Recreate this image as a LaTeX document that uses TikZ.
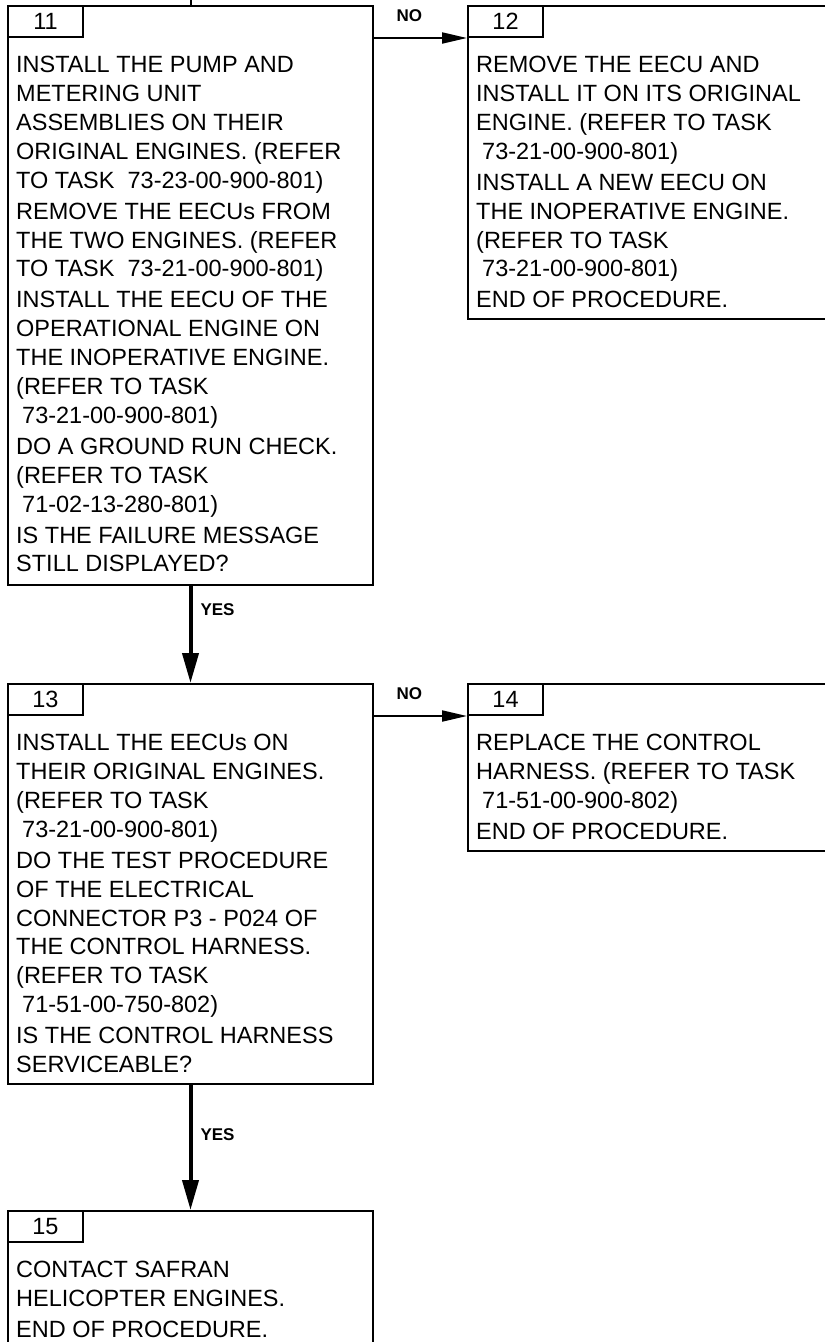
\documentclass[tikz,border=0pt]{standalone}
\usepackage{fontspec}
\setmainfont{Liberation Sans}
\usetikzlibrary{arrows.meta,positioning}

\begin{document}
\begin{tikzpicture}[x=1pt,y=-1pt,
  box/.style={draw,line width=2pt,anchor=north west,minimum width=365pt,inner sep=0pt},
  tab/.style={draw,line width=2pt,anchor=north west,minimum width=75pt,minimum height=31pt,inner sep=0pt,font=\fontsize{23.5pt}{28pt}\selectfont},
  txt/.style={align=left,inner sep=0pt,font=\fontsize{23.5pt}{28.9pt}\selectfont},
  yes/.style={line width=4pt,-{Triangle[length=30pt,width=16pt]}},
  no/.style={line width=2pt,-{Triangle[length=25pt,width=11pt]}},
  lbl/.style={inner sep=0pt,font=\fontsize{17pt}{20pt}\selectfont\bfseries}]
  \useasboundingbox (0,0) rectangle (825,1342);
  \clip (0,0) rectangle (825,1342);

  \node[box,minimum height=579pt] (b11) at (7,5) {};
  \node[tab] (t11) at (b11.north west) {11};
  \node[txt,below right=18pt and 9pt of t11.south west] (x11) {INSTALL THE PUMP AND\\
    METERING UNIT\\
    ASSEMBLIES ON THEIR\\
    ORIGINAL ENGINES. (REFER\\
    TO TASK\ \ 73-23-00-900-801)\\[2pt]
    REMOVE THE EECUs FROM\\
    THE TWO ENGINES. (REFER\\
    TO TASK\ \ 73-21-00-900-801)\\[2pt]
    INSTALL THE EECU OF THE\\
    OPERATIONAL ENGINE ON\\
    THE INOPERATIVE ENGINE.\\
    (REFER TO TASK\\
    \hspace*{6pt}73-21-00-900-801)\\[2pt]
    DO A GROUND RUN CHECK.\\
    (REFER TO TASK\\
    \hspace*{6pt}71-02-13-280-801)\\[2pt]
    IS THE FAILURE MESSAGE\\
    STILL DISPLAYED?};

  \node[box,minimum width=420pt,minimum height=313pt] (b12) at (467,5) {};
  \node[tab] (t12) at (b12.north west) {12};
  \node[txt,below right=18pt and 9pt of t12.south west] (x12) {REMOVE THE EECU AND\\
    INSTALL IT ON ITS ORIGINAL\\
    ENGINE. (REFER TO TASK\\
    \hspace*{6pt}73-21-00-900-801)\\[2pt]
    INSTALL A NEW EECU ON\\
    THE INOPERATIVE ENGINE.\\
    (REFER TO TASK\\
    \hspace*{6pt}73-21-00-900-801)\\[2pt]
    END OF PROCEDURE.};

  \node[box,minimum height=400pt] (b13) at (7,683) {};
  \node[tab] (t13) at (b13.north west) {13};
  \node[txt,below right=18pt and 9pt of t13.south west] (x13) {INSTALL THE EECUs ON\\
    THEIR ORIGINAL ENGINES.\\
    (REFER TO TASK\\
    \hspace*{6pt}73-21-00-900-801)\\[2pt]
    DO THE TEST PROCEDURE\\
    OF THE ELECTRICAL\\
    CONNECTOR P3 - P024 OF\\
    THE CONTROL HARNESS.\\
    (REFER TO TASK\\
    \hspace*{6pt}71-51-00-750-802)\\[2pt]
    IS THE CONTROL HARNESS\\
    SERVICEABLE?};

  \node[box,minimum width=420pt,minimum height=167pt] (b14) at (467,683) {};
  \node[tab] (t14) at (b14.north west) {14};
  \node[txt,below right=18pt and 9pt of t14.south west] (x14) {REPLACE THE CONTROL\\
    HARNESS. (REFER TO TASK\\
    \hspace*{6pt}71-51-00-900-802)\\[2pt]
    END OF PROCEDURE.};

  \node[box,minimum height=190pt] (b15) at (7,1210) {};
  \node[tab] (t15) at (b15.north west) {15};
  \node[txt,below right=18pt and 9pt of t15.south west] (x15) {CONTACT SAFRAN\\
    HELICOPTER ENGINES.\\[2pt]
    END OF PROCEDURE.};

  \coordinate (in11) at (b11.north |- 0,0);
  \draw[line width=2pt] (in11) -- (b11.north);
  \draw[no] (b11.east |- t12.south) -- (t12.south west) node[lbl,pos=0.38,above=15pt] {NO};
  \draw[yes] (b11.south) -- (b13.north) node[lbl,pos=0.24,right=8pt] {YES};
  \draw[no] (b13.east |- t14.south) -- (t14.south west) node[lbl,pos=0.38,above=15pt] {NO};
  \draw[yes] (b13.south) -- (b15.north) node[lbl,pos=0.4,right=8pt] {YES};
\end{tikzpicture}
\end{document}
